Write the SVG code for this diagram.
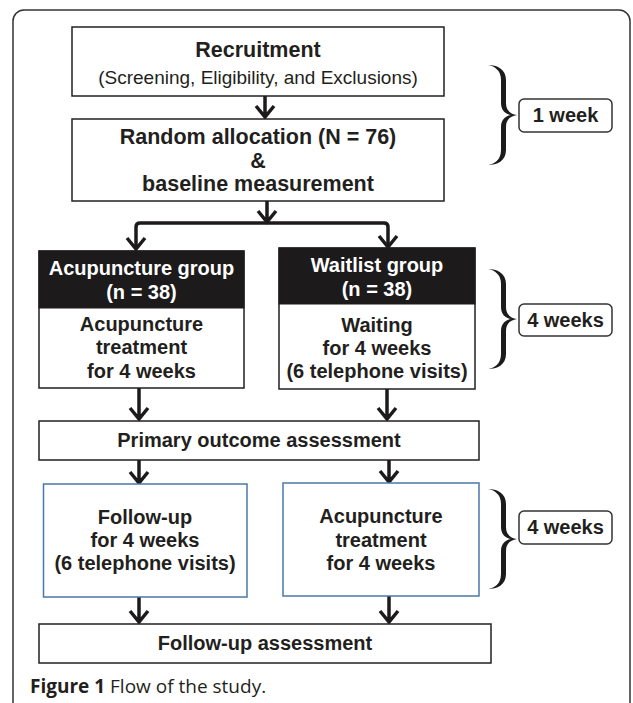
<svg xmlns="http://www.w3.org/2000/svg" width="633" height="703" viewBox="0 0 633 703">
<defs>
<style>
.box{fill:#fff;stroke:#231f20;stroke-width:1.5}
.bbox{fill:#fff;stroke:#4a78a6;stroke-width:1.5}
.hdr{fill:#1c1a1b;stroke:#1c1a1b;stroke-width:1}
.t{font-family:"Liberation Sans",Arial,Helvetica,sans-serif;font-weight:bold;font-size:20px;fill:#231f20;text-anchor:middle}
.big{font-size:21.5px}
.w{fill:#fff}
.r{font-weight:normal;font-size:19px}
.con{fill:none;stroke:#1c1a1b;stroke-width:3.5;stroke-linejoin:miter}
.brace{fill:#1c1a1b}
.wk{fill:#fff;stroke:#333;stroke-width:1.5}
</style>
<path id="brace" d="M0,0 C9,0 18,4 18,15 L18,38 C18,45 22,49 29,50 C22,51 18,55 18,62 L18,85 C18,96 9,100 0,100 C6,99 13,95 13,85 L13,62 C13,55 17,51 23,50 C17,49 13,45 13,38 L13,15 C13,5 6,1 0,0 Z"/>
</defs>
<rect x="0" y="0" width="633" height="703" fill="#fff"/>
<rect x="13" y="10" width="617" height="720" rx="11" fill="none" stroke="#333" stroke-width="1.5"/>

<g id="connectors">
<path class="con" d="M265,96 V116 M256,106 L265,117 L274,106"/>
<path class="con" d="M267,201 V222 M258,211 L267,222 L276,211"/>
<path class="con" d="M136,248 V227 Q136,223 140,223 H384 Q388,223 388,227 V246"/>
<path class="con" d="M127,238 L136,249 L145,238"/>
<path class="con" d="M379,236 L388,247 L397,236"/>
<path class="con" d="M139,388 V419 M130,408 L139,419 L148,408"/>
<path class="con" d="M387,389 V419 M378,408 L387,419 L396,408"/>
<path class="con" d="M139,460 V483 M130,472 L139,483 L148,472"/>
<path class="con" d="M389,460 V482 M380,471 L389,482 L398,471"/>
<path class="con" d="M139,597 V622 M130,611 L139,622 L148,611"/>
<path class="con" d="M389,596 V622 M380,611 L389,622 L398,611"/>
</g>

<g id="recruitment">
<rect class="box" x="72" y="27" width="372" height="69"/>
<text class="t big" x="258" y="57">Recruitment</text>
<text class="t r" x="258" y="84">(Screening, Eligibility, and Exclusions)</text>
</g>

<g id="random">
<rect class="box" x="72" y="119" width="372" height="82"/>
<text class="t big" x="258" y="144">Random allocation (N = 76)</text>
<text class="t big" x="258" y="168">&amp;</text>
<text class="t big" x="258" y="191">baseline measurement</text>
</g>

<g id="acu-group">
<rect class="box" x="39" y="251" width="205" height="137"/>
<rect class="hdr" x="39" y="251" width="205" height="57"/>
<text class="t w" x="141.5" y="275">Acupuncture group</text>
<text class="t w" x="141.5" y="299">(n = 38)</text>
<text class="t" x="141.5" y="331">Acupuncture</text>
<text class="t" x="141.5" y="354">treatment</text>
<text class="t" x="141.5" y="378">for 4 weeks</text>
</g>

<g id="wait-group">
<rect class="box" x="279" y="248" width="196" height="141"/>
<rect class="hdr" x="279" y="248" width="196" height="56"/>
<text class="t w" x="377" y="272">Waitlist group</text>
<text class="t w" x="377" y="296">(n = 38)</text>
<text class="t" x="377" y="332">Waiting</text>
<text class="t" x="377" y="355">for 4 weeks</text>
<text class="t" x="377" y="378">(6 telephone visits)</text>
</g>

<g id="primary">
<rect class="box" x="39" y="421" width="440" height="39"/>
<text class="t" x="259" y="447">Primary outcome assessment</text>
</g>

<g id="followup">
<rect class="bbox" x="43.5" y="484" width="203.5" height="113"/>
<text class="t" x="145" y="524">Follow-up</text>
<text class="t" x="145" y="547">for 4 weeks</text>
<text class="t" x="145" y="570">(6 telephone visits)</text>
</g>

<g id="acu-treatment">
<rect class="bbox" x="283" y="483" width="196" height="113"/>
<text class="t" x="381" y="523">Acupuncture</text>
<text class="t" x="381" y="547">treatment</text>
<text class="t" x="381" y="570">for 4 weeks</text>
</g>

<g id="followup-assessment">
<rect class="box" x="39" y="624" width="452" height="39"/>
<text class="t" x="265" y="650">Follow-up assessment</text>
</g>

<g id="week1">
<use href="#brace" class="brace" x="488" y="65"/>
<rect class="wk" x="519" y="99" width="93" height="33" rx="5"/>
<text class="t" x="565.5" y="122">1 week</text>
</g>

<g id="weeks4a">
<use href="#brace" class="brace" x="488" y="269"/>
<rect class="wk" x="519" y="304" width="93" height="32" rx="5"/>
<text class="t" x="565.5" y="327">4 weeks</text>
</g>

<g id="weeks4b">
<use href="#brace" class="brace" x="488" y="489"/>
<rect class="wk" x="519" y="511" width="93" height="33" rx="5"/>
<text class="t" x="565.5" y="534">4 weeks</text>
</g>

<text x="30" y="693" font-family="'Open Sans',sans-serif" font-size="19" fill="#231f20"><tspan font-weight="bold">Figure 1</tspan> Flow of the study.</text>
</svg>
